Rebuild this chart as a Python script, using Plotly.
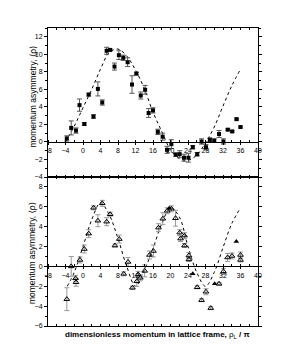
import plotly.graph_objects as go

# ---------------- data ----------------
# top panel: filled squares
top_x = [-3.7, -2.7, -1.6, -0.8, 0.3, 1.3, 2.4, 3.4, 4.4, 5.4, 6.2, 7.2, 8.2, 9.2, 10.2,
         11.2, 12.2, 13.2, 14.2, 15.0, 16.0, 17.1, 18.2, 19.2, 20.2, 21.2, 22.1, 23.1,
         24.1, 25.1, 26.1, 27.1, 28.1, 29.0, 30.0, 31.1, 32.1, 33.1, 34.1, 35.1, 36.0]
top_y = [0.4, 1.6, 1.3, 4.2, 2.05, 5.4, 2.9, 6.05, 4.5, 10.4, 10.5, 8.6, 9.9, 9.6, 9.1,
         6.55, 7.8, 5.3, 5.95, 3.3, 3.6, 1.15, 0.6, -0.9, -0.25, -1.45, -1.4, -1.8,
         -1.8, -0.6, -1.4, 0.05, -0.6, 0.25, 0.15, 0.9, 0.05, 1.4, 1.2, 2.6, 1.7]
top_err = [0.3, 0.8, 0.3, 0.7, 0.15, 0.15, 0.2, 0.8, 0.3, 0.4, 0.1, 0.4, 0.5, 0.3, 0.5,
           1.0, 0.15, 0.4, 0.5, 0.5, 0.3, 0.3, 0.4, 0.4, 0.5, 0.2, 0.4, 0.4,
           0.5, 0.2, 0.2, 0.3, 0.3, 0.2, 0.2, 0.4, 0.3, 0.1, 0.1, 0.1, 0.1]

# top panel: dashed model curve
top_curve_x = [-4, -2, 0, 2, 4, 6, 8, 10, 12, 14, 16, 18, 20, 22, 24, 26, 28, 30, 32, 34, 36]
top_curve_y = [0.0, 1.8, 3.9, 6.0, 8.3, 10.2, 10.6, 9.8, 8.2, 6.1, 3.4, 1.2, -0.9, -1.9,
               -2.1, -1.5, -0.1, 1.7, 4.1, 6.4, 8.3]

# bottom panel: open triangles
bot_x = [-3.7, -2.7, -1.7, -1.6, -0.7, 0.3, 1.3, 2.4, 3.4, 4.4, 5.4, 6.2, 7.3, 8.3, 9.3,
         10.3, 11.3, 12.3, 12.6, 13.1, 14.1, 15.2, 16.1, 17.25, 18.25, 19.25, 20.2, 21.15,
         22.1, 22.3, 23.2, 23.2, 24.2, 24.2, 26.1, 27.1, 28.1, 29.2, 31.1, 32.1, 33.05,
         34.05, 36.0, 36.0]
bot_y = [-3.3, 0.0, -1.2, -1.6, 0.65, 1.75, 3.3, 5.9, 4.6, 6.35, 4.5, 5.25, 2.1, 2.75, -0.75,
         0.45, -2.15, -1.5, -0.8, -1.15, -0.45, 1.15, 1.55, 3.9, 4.8, 5.6, 5.8, 4.85,
         3.4, 2.8, 3.1, 2.1, 1.1, 0.7, -2.1, -3.4, -2.55, -4.2, -1.75, -0.5, 0.9,
         1.05, 1.15, 0.65]
bot_err = [1.15, 1.0, 0.3, 0.4, 0.3, 0.4, 0.4, 0.2, 0.6, 0.3, 0.4, 0.2, 0.15, 0.4, 0.2,
           0.45, 0.15, 0.5, 0.3, 0.3, 0.6, 0.4, 0.6, 0.4, 0.6, 0.3, 0.3, 0.8,
           0.3, 0.3, 0.3, 0.2, 0.3, 0.2, 0.15, 0.15, 0.3, 0.15, 0.15, 0.3, 0.4,
           0.3, 0.3, 0.2]

# bottom panel: filled triangles
bot_fill_x = [19.7, 25.1, 30.1, 35.05]
bot_fill_y = [5.85, -0.75, -1.75, 2.5]

# bottom panel: dashed model curve
bot_curve_x = [-3.6, -2, 0, 2, 4, 6, 8, 10, 12, 14, 16, 18, 20, 22, 24, 26, 28, 30, 32, 34, 36]
bot_curve_y = [-2.0, -0.6, 2.0, 4.7, 6.4, 5.2, 2.8, 0.0, -2.0, -0.4, 1.8, 4.3, 5.9, 5.0,
               2.0, -0.6, -2.0, -0.6, 1.9, 4.3, 5.9]

x_range = [-8, 40]
top_range = [-4, 13]
bot_range = [-6, 9]
x_ticks = list(range(-8, 41, 4))

FONT = "Liberation Sans, Arial, DejaVu Sans, sans-serif"

fig = go.Figure()

dash = "3px,3px"
fig.add_trace(go.Scatter(x=top_curve_x, y=top_curve_y, mode="lines", line_shape="spline",
                         line=dict(color="black", width=1, dash=dash),
                         xaxis="x", yaxis="y", showlegend=False))
fig.add_trace(go.Scatter(x=top_x, y=top_y, mode="markers",
                         marker=dict(symbol="square", size=4, color="black"),
                         error_y=dict(type="data", array=top_err, color="#555555",
                                      thickness=1, width=2.5),
                         xaxis="x", yaxis="y", showlegend=False))

fig.add_trace(go.Scatter(x=bot_curve_x, y=bot_curve_y, mode="lines", line_shape="spline",
                         line=dict(color="black", width=1, dash=dash),
                         xaxis="x2", yaxis="y2", showlegend=False))
fig.add_trace(go.Scatter(x=bot_x, y=bot_y, mode="markers",
                         marker=dict(symbol="triangle-up-open", size=5, color="black",
                                     line=dict(width=1)),
                         error_y=dict(type="data", array=bot_err, color="#999999",
                                      thickness=1, width=2.5),
                         xaxis="x2", yaxis="y2", showlegend=False))
fig.add_trace(go.Scatter(x=bot_fill_x, y=bot_fill_y, mode="markers",
                         marker=dict(symbol="triangle-up", size=5, color="black"),
                         xaxis="x2", yaxis="y2", showlegend=False))

# dummy traces for the zero-line labelled axes
fig.add_trace(go.Scatter(x=[None], y=[None], xaxis="x3", yaxis="y", showlegend=False,
                         hoverinfo="skip"))
fig.add_trace(go.Scatter(x=[None], y=[None], xaxis="x4", yaxis="y2", showlegend=False,
                         hoverinfo="skip"))

tickfont = dict(family=FONT, size=7, color="black")

frame_x = dict(range=x_range, showline=True, linecolor="black", linewidth=1, mirror="ticks",
               ticks="inside", ticklen=2, tickcolor="black", dtick=2, tick0=0,
               showticklabels=False, showgrid=False, zeroline=False)
frame_y = dict(showline=True, linecolor="black", linewidth=1, mirror="ticks",
               ticks="outside", ticklen=3, tickcolor="black", dtick=2,
               tickfont=tickfont, showgrid=False, zeroline=False,
               minor=dict(ticks="outside", ticklen=2, dtick=1, tickcolor="black"))

zero_x = dict(range=x_range, showline=True, linecolor="black", linewidth=1,
              ticks="outside", ticklen=2, tickcolor="black", tickvals=x_ticks,
              tickfont=tickfont, showgrid=False, zeroline=False,
              minor=dict(ticks="inside", ticklen=2, dtick=2, tickcolor="black"))

top_dom = [0.5, 1.0]
bot_dom = [0.0, 0.5]
top_zero = top_dom[0] + (top_dom[1] - top_dom[0]) * (0 - top_range[0]) / (top_range[1] - top_range[0])
bot_zero = bot_dom[0] + (bot_dom[1] - bot_dom[0]) * (0 - bot_range[0]) / (bot_range[1] - bot_range[0])

# page body has an 8px default margin, so the figure is slightly smaller than the window
fig.update_layout(
    width=285, height=338,
    margin=dict(l=40, r=35, t=20, b=20),
    paper_bgcolor="white", plot_bgcolor="white",
    font=dict(family=FONT, color="black"),
    xaxis=dict(**frame_x, anchor="y", domain=[0, 1]),
    yaxis=dict(**frame_y, range=top_range, domain=top_dom, anchor="x"),
    xaxis2=dict(**frame_x, anchor="y2", domain=[0, 1]),
    yaxis2=dict(**frame_y, range=bot_range, domain=bot_dom, anchor="x2"),
    xaxis3=dict(**zero_x, overlaying="x", anchor="free", position=top_zero),
    xaxis4=dict(**zero_x, overlaying="x2", anchor="free", position=bot_zero),
)

ytitle = "momentum asymmetry, ⟨ρ⟩"
fig.add_annotation(text=ytitle, xref="paper", yref="paper", x=-0.076, y=0.77,
                   textangle=-90, showarrow=False, xanchor="center", yanchor="middle",
                   font=dict(family=FONT, size=8.5, color="black"))
fig.add_annotation(text=ytitle, xref="paper", yref="paper", x=-0.076, y=0.245,
                   textangle=-90, showarrow=False, xanchor="center", yanchor="middle",
                   font=dict(family=FONT, size=8.5, color="black"))
fig.add_annotation(text="<b>dimensionless momentum in lattice frame, </b>ρ<sub>L</sub><b> / π</b>",
                   xref="paper", yref="paper", x=0.52, y=-0.03, showarrow=False,
                   xanchor="center", yanchor="middle",
                   font=dict(family=FONT, size=8, color="black"))

fig.write_html("out.html")
